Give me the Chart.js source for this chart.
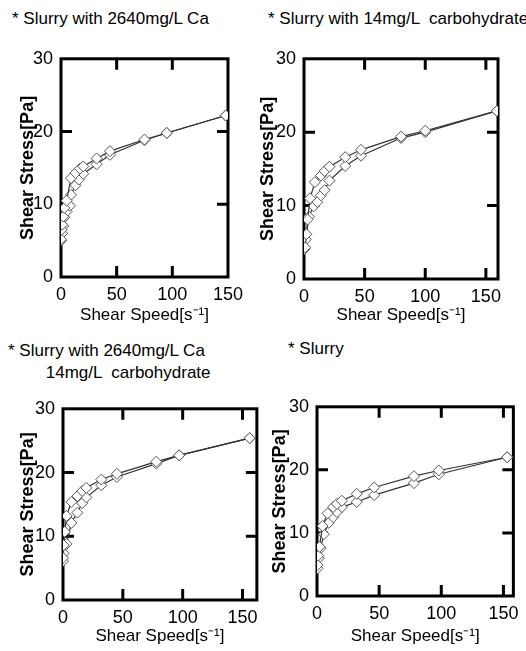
<!DOCTYPE html>
<html>
<head>
<meta charset="utf-8">
<script src="https://cdn.jsdelivr.net/npm/chart.js@4"></script>
<style>
  body { margin: 0; background: #fff; }
  #page { position: relative; width: 526px; height: 651px; overflow: hidden; }
  canvas { position: absolute; }
  .ttl { position: absolute; font-family: "Liberation Sans", Arial, sans-serif;
         font-size: 17px; color: #000; white-space: pre; line-height: 22px; }
</style>
</head>
<body>
<div id="page">
  <canvas id="c1"></canvas>
  <canvas id="c2"></canvas>
  <canvas id="c3"></canvas>
  <canvas id="c4"></canvas>
  <div class="ttl" style="left:12px; top:8px;">* Slurry with 2640mg/L Ca</div>
  <div class="ttl" style="left:268px; top:8px;">* Slurry with 14mg/L  carbohydrate</div>
  <div class="ttl" style="left:8px; top:340px;">* Slurry with 2640mg/L Ca
        14mg/L  carbohydrate</div>
  <div class="ttl" style="left:288px; top:338px;">* Slurry</div>
</div>
<script>
// données (vitesse de cisaillement s-1, contrainte Pa)
var caUpSpeed = [0, 0.5, 1, 2, 3, 5, 9, 13, 17, 20, 32, 44, 75, 95, 148];
var caUpStress = [5.2, 6.5, 7.2, 8.3, 9.5, 10.5, 13.6, 14.3, 14.9, 15.2, 16.3, 17.3, 18.9, 19.8, 22.2];
var caDownSpeed = [0, 1, 2, 3, 5, 8, 9, 13, 16, 20, 32, 44, 75, 95, 148];
var caDownStress = [5.0, 6.0, 7.0, 8.2, 9.0, 9.8, 11.3, 12.6, 13.4, 14.2, 15.5, 16.8, 18.8, 19.8, 22.2];

var carbUpSpeed = [1, 2, 3, 5, 9, 14, 17, 21, 34, 47, 80, 100, 159];
var carbUpStress = [4.3, 6.1, 8.1, 11.0, 13.2, 14.1, 14.7, 15.3, 16.6, 17.6, 19.4, 20.2, 22.9];
var carbDownSpeed = [0.5, 1.5, 4, 8, 11, 14, 17, 21, 34, 47, 80, 100, 159];
var carbDownStress = [4.1, 5.4, 8.5, 9.9, 10.5, 11.4, 12.1, 13.4, 15.4, 16.8, 19.2, 20.0, 22.9];

var bothUpSpeed = [0, 0.5, 1.5, 3, 7, 12, 16, 19.5, 32, 45, 78, 97, 156];
var bothUpStress = [6.6, 8.6, 10.7, 13.2, 15.4, 16.3, 17.1, 17.6, 18.9, 19.8, 21.7, 22.7, 25.4];
var bothDownSpeed = [0, 0.5, 3, 7, 12, 16, 19.5, 32, 45, 78, 97, 156];
var bothDownStress = [6.1, 7.3, 8.8, 12.1, 13.7, 15.2, 16.1, 18.0, 19.3, 21.4, 22.7, 25.4];

var plainUpSpeed = [0.5, 1, 2, 4.5, 8.5, 13, 16, 20, 32, 46, 78, 98, 153];
var plainUpStress = [4.9, 6.4, 7.8, 11.1, 13.1, 14.1, 14.6, 15.1, 16.2, 17.2, 19.0, 19.9, 22.0];
var plainDownSpeed = [0.5, 1.5, 3, 5.5, 9.5, 13, 16, 20, 32, 46, 78, 98, 153];
var plainDownStress = [4.4, 6.0, 7.6, 9.8, 11.6, 12.5, 13.3, 14.1, 14.9, 16.0, 17.9, 19.3, 22.0];

var yTicks = [0, 10, 20, 30];
var xTicks = [0, 50, 100, 150];

var FONT = '"Liberation Sans", Arial, sans-serif';

function pts(xs, ys) {
  return xs.map(function(v, i) { return { x: v, y: ys[i] }; });
}

// cadre épais + graduations vers l'intérieur sur les 4 côtés
var boxTicks = {
  id: 'boxTicks',
  beforeDatasetsDraw: function(chart) {
    var ctx = chart.ctx, a = chart.chartArea, x = chart.scales.x, y = chart.scales.y;
    var L = 11;
    ctx.save();
    ctx.strokeStyle = '#000';
    ctx.lineWidth = 3;
    ctx.strokeRect(a.left, a.top, a.right - a.left, a.bottom - a.top);
    ctx.beginPath();
    xTicks.forEach(function(v) {
      if (v <= x.min || v >= x.max) return;
      var px = x.getPixelForValue(v);
      ctx.moveTo(px, a.top); ctx.lineTo(px, a.top + L);
      ctx.moveTo(px, a.bottom); ctx.lineTo(px, a.bottom - L);
    });
    yTicks.forEach(function(v) {
      if (v <= y.min || v >= y.max) return;
      var py = y.getPixelForValue(v);
      ctx.moveTo(a.left, py); ctx.lineTo(a.left + L, py);
      ctx.moveTo(a.right, py); ctx.lineTo(a.right - L, py);
    });
    ctx.stroke();
    ctx.restore();
  }
};

function makeChart(id, box, xMax, up, down) {
  var el = document.getElementById(id);
  el.style.left = box.left + 'px';
  el.style.top = box.top + 'px';
  el.width = box.w;
  el.height = box.h;

  var serie = function(d) {
    return {
      data: d,
      showLine: true,
      borderColor: '#333',
      borderWidth: 1.2,
      pointStyle: 'rectRot',
      pointRadius: 5.5,
      pointBackgroundColor: '#fff',
      pointBorderColor: '#555',
      pointBorderWidth: 1,
      tension: 0
    };
  };

  return new Chart(el, {
    type: 'scatter',
    data: { datasets: [serie(up), serie(down)] },
    options: {
      responsive: false,
      animation: false,
      layout: { padding: { top: box.padTop, right: box.padRight, left: 0, bottom: 0 } },
      plugins: { legend: { display: false }, tooltip: { enabled: false } },
      scales: {
        x: {
          type: 'linear', min: 0, max: xMax,
          afterBuildTicks: function(s) { s.ticks = xTicks.map(function(v) { return { value: v }; }); },
          afterFit: function(s) { s.height = box.xh; },
          grid: { display: false, drawTicks: false },
          border: { display: false },
          ticks: { color: '#000', padding: 7, maxRotation: 0, font: { family: FONT, size: 18 } },
          title: { display: true, text: 'Shear Speed[s\u207B\u00B9]', color: '#000', padding: { top: 4 },
                   font: { family: FONT, size: 17 } }
        },
        y: {
          type: 'linear', min: 0, max: 30,
          afterBuildTicks: function(s) { s.ticks = yTicks.map(function(v) { return { value: v }; }); },
          afterFit: function(s) { s.width = box.yw; },
          grid: { display: false, drawTicks: false },
          border: { display: false },
          ticks: { color: '#000', padding: 8, font: { family: FONT, size: 18 } },
          title: { display: true, text: 'Shear Stress[Pa]', color: '#000', padding: { top: box.tp, bottom: 0 },
                   font: { family: FONT, size: 18, weight: 'bold' } }
        }
      }
    },
    plugins: [boxTicks]
  });
}

makeChart('c1', { left: 0, top: 40, w: 250, h: 290, padTop: 12, padRight: 10, yw: 61, xh: 53, tp: 17 }, 150,
  pts(caUpSpeed, caUpStress), pts(caDownSpeed, caDownStress));
makeChart('c2', { left: 257, top: 40, w: 269, h: 290, padTop: 13, padRight: 28, yw: 47, xh: 51, tp: 0 }, 160,
  pts(carbUpSpeed, carbUpStress), pts(carbDownSpeed, carbDownStress));
makeChart('c3', { left: 0, top: 390, w: 265, h: 261, padTop: 13, padRight: 2, yw: 63, xh: 51, tp: 17 }, 162,
  pts(bothUpSpeed, bothUpStress), pts(bothDownSpeed, bothDownStress));
makeChart('c4', { left: 265, top: 388, w: 261, h: 263, padTop: 12, padRight: 11, yw: 52, xh: 55, tp: 4 }, 158,
  pts(plainUpSpeed, plainUpStress), pts(plainDownSpeed, plainDownStress));
</script>
</body>
</html>
